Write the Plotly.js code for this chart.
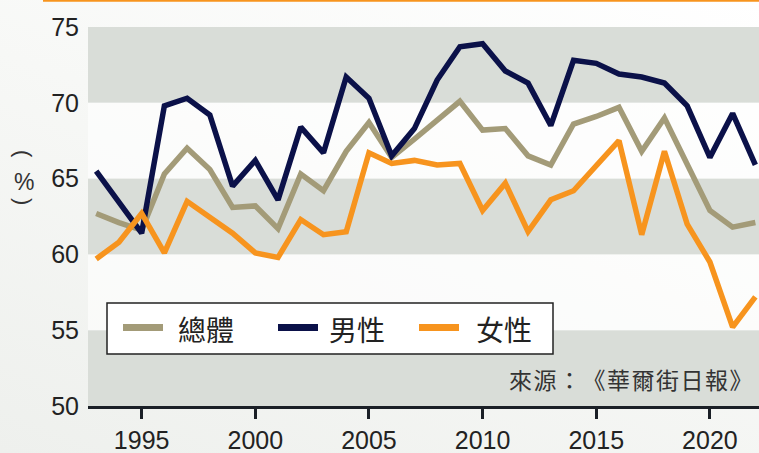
<!DOCTYPE html>
<html>
<head>
<meta charset="utf-8">
<script src="https://cdn.plot.ly/plotly-3.0.1.min.js"></script>
<style>
html,body{margin:0;padding:0;}
body{width:759px;height:453px;overflow:hidden;background:linear-gradient(200deg,#ffffff 0%,#f7f8f6 45%,#eef0ed 100%);}
#chart{width:759px;height:453px;}
text, tspan { text-spacing-trim: space-all; }
</style>
</head>
<body>
<div id="chart"></div>
<script>
const years = [1993,1994,1995,1996,1997,1998,1999,2000,2001,2002,2003,2004,2005,2006,2007,2008,2009,2010,2011,2012,2013,2014,2015,2016,2017,2018,2019,2020,2021,2022];
const total = [62.7,62.1,61.6,65.3,67.0,65.6,63.1,63.2,61.7,65.3,64.2,66.8,68.7,66.4,67.6,68.8,70.1,68.2,68.3,66.5,65.9,68.6,69.1,69.7,66.8,69.0,66.0,62.9,61.8,62.1];
const male = [65.5,63.5,61.4,69.8,70.3,69.2,64.5,66.2,63.6,68.4,66.7,71.7,70.3,66.5,68.3,71.5,73.7,73.9,72.1,71.3,68.5,72.8,72.6,71.9,71.7,71.3,69.8,66.4,69.3,65.9];
const female = [59.7,60.8,62.7,60.1,63.5,62.5,61.4,60.1,59.8,62.3,61.3,61.5,66.7,66.0,66.2,65.9,66.0,62.9,64.7,61.5,63.6,64.2,65.8,67.5,61.3,66.8,62.0,59.5,55.2,57.2];
const seriesNames = ['總體','男性','女性'];
const seriesColors = ['#a39b78','#0b1149','#f7941e'];
const yTicks = [50,55,60,65,70,75];
const xTicks = [1995,2000,2005,2010,2015,2020];
const greyBands = [[50,55],[60,65],[70,75]];
const whiteBands = [[55,60],[65,70]];
const sourceText = '來源：《華爾街日報》';

const cjk = '"Noto Sans CJK TC","Noto Sans CJK SC",sans-serif';
const num = '"Liberation Sans",Arial,sans-serif';

const W = 759, H = 453, ML = 88, MR = 0, MT = 27, MB = 47;
const PW = W - ML - MR, PH = H - MT - MB;
const px = v => (v - ML) / PW;          // pixel x -> paper x
const py = v => (H - MB - v) / PH;      // pixel y -> paper y

const data = [total, male, female].map((vals, i) => ({
  type: 'scatter', mode: 'lines', x: years, y: vals, name: seriesNames[i],
  line: {color: seriesColors[i], width: 5.5, shape: 'linear'},
  hoverinfo: 'skip', showlegend: false
}));

const shapes = [];
greyBands.forEach(b => shapes.push({type:'rect', xref:'paper', yref:'y', x0:0, x1:1, y0:b[0], y1:b[1], fillcolor:'#d9ddd8', line:{width:0}, layer:'below'}));
whiteBands.forEach(b => shapes.push({type:'rect', xref:'paper', yref:'y', x0:0, x1:1, y0:b[0], y1:b[1], fillcolor:'rgba(255,255,255,0.6)', line:{width:0}, layer:'below'}));
shapes.push({type:'line', xref:'paper', yref:'paper', x0:px(43), x1:px(762), y0:py(0.5), y1:py(0.5), line:{color:'#f7941e', width:2.5}});

// legend box (custom)
shapes.push({type:'rect', xref:'paper', yref:'paper', x0:px(107), x1:px(553), y0:py(354), y1:py(303), fillcolor:'#ffffff', line:{color:'#222222', width:1.5}, layer:'above'});
const legLineX = [123, 278, 419];
const legTextX = [177, 328, 475];
const annotations = [];
seriesNames.forEach((n, i) => {
  shapes.push({type:'line', xref:'paper', yref:'paper', x0:px(legLineX[i]), x1:px(legLineX[i] + 40), y0:py(327.5), y1:py(327.5), line:{color: seriesColors[i], width: 7}, layer:'above'});
  annotations.push({xref:'paper', yref:'paper', x:px(legTextX[i]), y:py(329), xanchor:'left', yanchor:'middle', text:n, showarrow:false, borderpad:0,
    font:{family: cjk, size: 28, color:'#222222'}});
});

annotations.push(
  {xref:'paper', yref:'paper', x:px(755), y:py(379), xanchor:'right', yanchor:'middle',
   text: '<span style="letter-spacing:1.5px">' + sourceText + '</span>', showarrow:false, borderpad:0,
   font:{family: cjk, size: 23, color:'#333333'}},
  {xref:'paper', yref:'paper', x:px(24), y:py(154), xanchor:'center', yanchor:'middle', text:'(', textangle:90, showarrow:false,
   font:{family: num, size: 22, color:'#333333'}},
  {xref:'paper', yref:'paper', x:px(24), y:py(182), xanchor:'center', yanchor:'middle', text:'%', showarrow:false,
   font:{family: num, size: 23, color:'#333333'}},
  {xref:'paper', yref:'paper', x:px(24), y:py(201), xanchor:'center', yanchor:'middle', text:')', textangle:90, showarrow:false,
   font:{family: num, size: 22, color:'#333333'}}
);

const layout = {
  width: W, height: H,
  margin: {l: ML, r: MR, t: MT, b: MB},
  paper_bgcolor: 'rgba(0,0,0,0)',
  plot_bgcolor: 'rgba(0,0,0,0)',
  showlegend: false,
  xaxis: {
    range: [1992.64, 2022.16], tickvals: xTicks, ticktext: xTicks.map(String),
    ticks: 'outside', ticklen: 10, tickwidth: 3, tickcolor: '#1a1f26',
    showline: true, linewidth: 3, linecolor: '#1a1f26',
    showgrid: false, zeroline: false,
    tickfont: {family: num, size: 25, color: '#222222'}
  },
  yaxis: {
    range: [50, 75], tickvals: yTicks, ticktext: yTicks.map(String),
    showgrid: false, zeroline: false, showline: false, ticks: '',
    ticklabelstandoff: 8,
    tickfont: {family: num, size: 25, color: '#222222'}
  },
  shapes: shapes,
  annotations: annotations
};

Plotly.newPlot('chart', data, layout, {displayModeBar: false, staticPlot: true});
</script>
</body>
</html>
